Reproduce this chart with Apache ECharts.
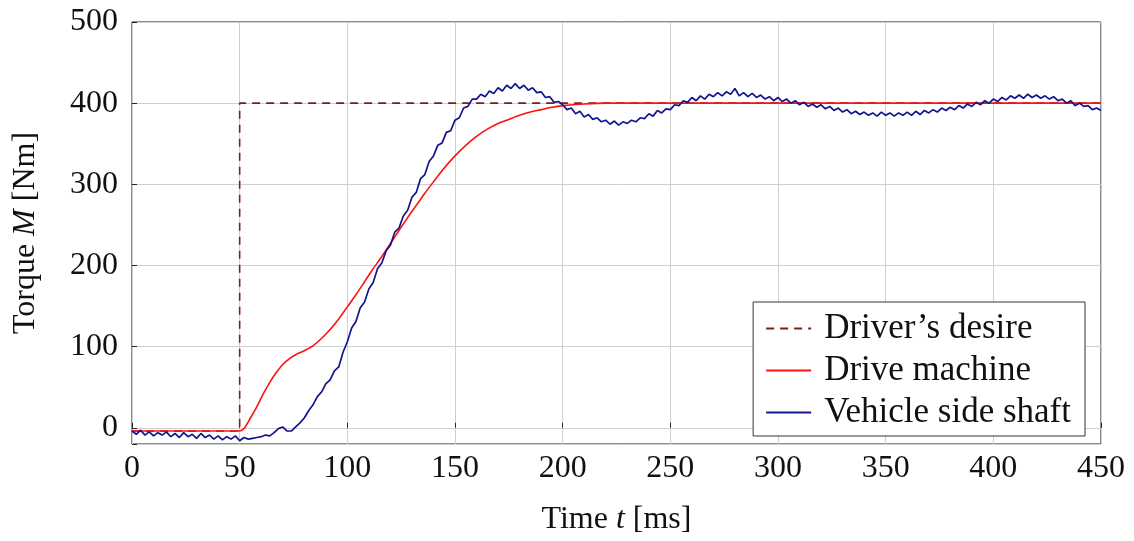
<!DOCTYPE html>
<html>
<head>
<meta charset="utf-8">
<script src="https://cdn.jsdelivr.net/npm/echarts@6/dist/echarts.min.js"></script>
<style>
html,body{margin:0;padding:0;background:#fff;}
#chart{width:1134px;height:541px;}
</style>
</head>
<body>
<div id="chart"></div>
<script>
// ---- data ----
var xTicks = [0, 50, 100, 150, 200, 250, 300, 350, 400, 450];
var yTicks = [0, 100, 200, 300, 400, 500];

var desireTime = [0, 50, 50, 450];
var desireValue = [-4, -4, 400, 400];

var machineTime = [0, 50, 52, 55, 58, 61, 64, 67, 70, 73, 76, 80, 84, 88, 92, 96, 100, 104, 108, 112, 116, 120, 124, 128, 132, 136, 140, 145, 150, 155, 160, 165, 170, 175, 180, 185, 190, 195, 200, 210, 220, 230, 250, 300, 350, 400, 450];
var machineValue = [-4, -4, -1, 12, 26, 42, 56, 68, 78, 85, 90, 95, 101, 110, 121, 134, 149, 164, 180, 196, 211, 227, 243, 259, 274, 289, 303, 320, 335, 348, 359, 368, 375, 380, 385, 389, 392, 395, 397, 399, 400, 400, 400, 400, 400, 400, 400];

// vehicle side shaft, sampled every 2 ms from t = 0 to 450
var shaftStep = 2;
var shaftValue = [
  -4,-8,-3,-9,-5,-10,-6,-9,-5,-11,
  -7,-12,-6,-11,-8,-13,-7,-12,-9,-14,
  -10,-15,-11,-14,-10,-16,-12,-14,-13,-12,
  -11,-9,-10,-6,-1,1,-4,-4,1,6,
  12,21,28,38,44,54,59,70,75,93,
  106,123,131,148,155,171,179,196,203,218,
  225,241,246,261,268,284,290,307,312,328,
  335,348,351,364,366,379,382,394,396,405,
  405,411,408,415,412,419,415,422,418,424,
  418,422,416,419,413,414,407,408,401,402,
  398,392,394,387,390,383,386,380,382,377,
  379,374,378,373,377,375,379,377,382,381,
  387,384,391,388,393,392,398,397,403,401,
  407,403,409,405,411,408,413,409,414,411,
  418,409,413,408,412,407,410,405,408,403,
  407,402,405,400,403,398,401,396,399,395,
  398,393,396,391,394,389,392,387,390,386,
  389,385,388,384,389,385,388,384,388,385,
  389,385,390,386,391,388,392,389,394,391,
  395,392,397,394,399,396,401,398,403,400,
  405,402,407,404,409,406,410,406,411,407,
  410,406,409,405,408,403,405,400,403,397,
  400,396,397,392,394,391
];

function pairs(t, v) { return v.map(function (y, i) { return [t[i], y]; }); }
var shaftData = shaftValue.map(function (y, i) { return [i * shaftStep, y]; });

var FONT = 'Liberation Serif';
var chart = echarts.init(document.getElementById('chart'), null, {renderer: 'canvas'});
chart.setOption({
  animation: false,
  backgroundColor: '#ffffff',
  grid: {left: 132, right: 33, top: 22, bottom: 95, show: true, borderColor: '#1a1a1a', borderWidth: 1, backgroundColor: 'transparent'},
  xAxis: {
    type: 'value', min: 0, max: 450, interval: 50,
    name: '{a|Time }{i|t}{a| [ms]}', nameLocation: 'middle', nameGap: 60,
    nameTextStyle: {rich: {a: {fontFamily: FONT, fontSize: 32, color: '#111'}, i: {fontFamily: FONT, fontSize: 32, fontStyle: 'italic', color: '#111'}}},
    axisLine: {show: false},
    axisTick: {show: true, inside: true, length: 5, lineStyle: {color: '#222'}},
    axisLabel: {fontFamily: FONT, fontSize: 32, color: '#111', margin: 9,
      formatter: function (v) { return xTicks.indexOf(v) >= 0 ? String(v) : ''; }},
    splitLine: {show: true, lineStyle: {color: '#cfcfcf', width: 1}}
  },
  yAxis: {
    type: 'value', min: -20, max: 500, splitNumber: 5,
    name: '{a|Torque }{i|M}{a| [Nm]}', nameLocation: 'middle', nameGap: 90, nameRotate: 90,
    nameTextStyle: {rich: {a: {fontFamily: FONT, fontSize: 32, color: '#111'}, i: {fontFamily: FONT, fontSize: 32, fontStyle: 'italic', color: '#111'}}},
    axisLine: {show: false},
    axisTick: {show: true, inside: true, length: 5, lineStyle: {color: '#222'}},
    axisLabel: {fontFamily: FONT, fontSize: 32, color: '#111', margin: 14,
      formatter: function (v) { return yTicks.indexOf(v) >= 0 ? String(v) : ''; }},
    splitLine: {show: true, lineStyle: {color: '#cfcfcf', width: 1}}
  },
  legend: {
    orient: 'vertical', right: 49, bottom: 105,
    padding: [9, 14, 6, 12], itemGap: 7, itemWidth: 45, itemHeight: 14,
    backgroundColor: '#fff', borderColor: '#333', borderWidth: 1,
    itemStyle: {opacity: 0},
    textStyle: {fontFamily: FONT, fontSize: 35, color: '#111', padding: [0, 0, 0, 8]},
    data: ["Driver’s desire", 'Drive machine', 'Vehicle side shaft']
  },
  series: [
    {name: "Driver’s desire", type: 'line', symbol: 'none', data: pairs(desireTime, desireValue),
      lineStyle: {color: '#7a1f1f', width: 1.6, type: [8, 6]}, itemStyle: {color: '#7a1f1f'}, z: 2},
    {name: 'Drive machine', type: 'line', symbol: 'none', smooth: 0.25, data: pairs(machineTime, machineValue),
      lineStyle: {color: '#ff1010', width: 1.6}, itemStyle: {color: '#ff1010'}, z: 3},
    {name: 'Vehicle side shaft', type: 'line', symbol: 'none', data: shaftData,
      lineStyle: {color: '#14148c', width: 1.7}, itemStyle: {color: '#14148c'}, z: 4}
  ]
});
</script>
</body>
</html>
